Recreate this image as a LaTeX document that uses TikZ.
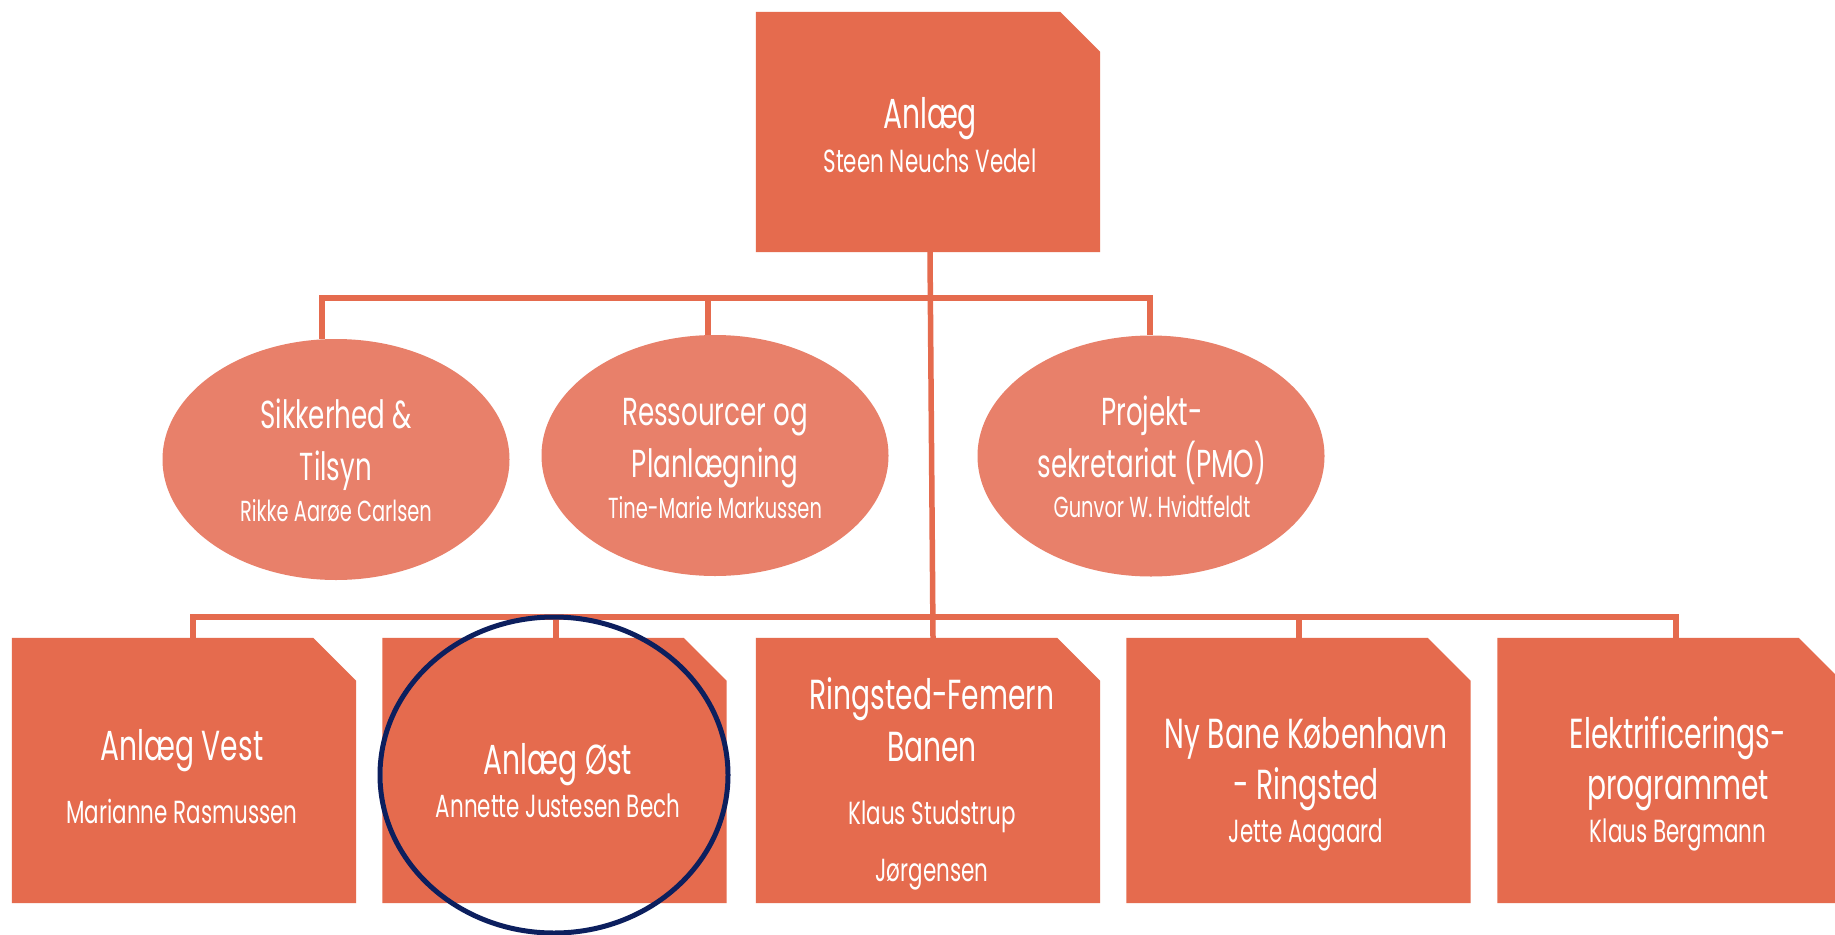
\documentclass[tikz,border=0pt]{standalone}
\usepackage{fontspec}
\newfontfamily\cf[FakeStretch=0.67]{Poppins}
\usetikzlibrary{shapes.geometric}
\definecolor{boxc}{HTML}{E56B4E}
\definecolor{ellc}{HTML}{E8806A}
\definecolor{navy}{HTML}{0C1F5E}
\tikzset{
 boxnode/.style={rectangle, minimum width=344pt, minimum height=265pt, inner sep=0pt, draw=none},
 topnode/.style={rectangle, minimum width=344pt, minimum height=240pt, inner sep=0pt, draw=none},
 ellnode/.style={ellipse, fill=ellc, minimum width=347pt, minimum height=241pt, inner sep=0pt},
 conn/.style={draw=boxc, line width=5.5pt},
 ttl/.style={text=white, font=\cf\fontsize{42}{48}\selectfont, anchor=base, inner sep=0pt},
 nm/.style={text=white, font=\cf\fontsize{32}{36}\selectfont, anchor=base, inner sep=0pt},
 ettl/.style={text=white, font=\cf\fontsize{39}{44}\selectfont, anchor=base, inner sep=0pt},
 enm/.style={text=white, font=\cf\fontsize{29}{32}\selectfont, anchor=base, inner sep=0pt},
 hilite/.style={ellipse, draw=navy, line width=5pt, minimum width=348pt, minimum height=316pt, inner sep=0pt},
}
\begin{document}
\begin{tikzpicture}[x=1pt,y=-1pt]
\clip (0,0) rectangle (1835,934);
\fill[white] (0,0) rectangle (1835,934);
% top box
\node[topnode] (top) at (928,132) {};
\fill[boxc] (top.south west) -- (top.north west) -- ([xshift=-40pt]top.north east) -- ([yshift=-40pt]top.north east) -- (top.south east) -- cycle;
% ellipses
\node[ellnode] (e1) at (336,459.5) {};
\node[ellnode] (e2) at (715,455.5) {};
\node[ellnode] (e3) at (1151,456) {};
% bottom boxes
\foreach \n/\x in {b1/184, b2/554.5, b3/928, b4/1298.5, b5/1669.5}{
  \node[boxnode] (\n) at (\x,770.5) {};
  \fill[boxc] (\n.south west) -- (\n.north west) -- ([xshift=-43pt]\n.north east) -- ([yshift=-43pt]\n.north east) -- (\n.south east) -- cycle;
}
% connectors
\coordinate (ebL) at (322,298);
\coordinate (ebM) at (708,298);
\coordinate (ebR) at (1150,298);
\draw[conn] (ebL |- e1.north) -- (ebL) -- (ebR) -- (ebR |- e3.north);
\draw[conn] (ebM) -- (ebM |- e2.north);
\coordinate (bbL) at (193,617);
\coordinate (bb2) at (556,617);
\coordinate (bb4) at (1299,617);
\coordinate (bbR) at (1676,617);
\draw[conn] (bbL |- b1.north) -- (bbL) -- (bbR) -- (bbR |- b5.north);
\draw[conn] (bb2) -- (bb2 |- b2.north);
\draw[conn] (bb4) -- (bb4 |- b4.north);
\draw[conn] ([xshift=2pt]top.south) -- ([xshift=5pt]b3.north);
% texts
\node[ttl] (t0a) at (930,128) {Anlæg};
\node[nm] (t0b) at (930,172) {Steen Neuchs Vedel};
\node[ettl] (t1a) at (336,428) {Sikkerhed \&};
\node[ettl] (t1b) at (336,480) {Tilsyn};
\node[enm] (t1c) at (336,521) {Rikke Aarøe Carlsen};
\node[ettl] (t2a) at (715,425) {Ressourcer og};
\node[ettl] (t2b) at (715,477) {Planlægning};
\node[enm] (t2c) at (715,518) {Tine-Marie Markussen};
\node[ettl] (t3a) at (1152,425) {Projekt-};
\node[ettl] (t3b) at (1152,477) {sekretariat (PMO)};
\node[enm] (t3c) at (1152,517) {Gunvor W. Hvidtfeldt};
\node[ttl] (u1a) at (182,760) {Anlæg Vest};
\node[nm] (u1b) at (182,823) {Marianne Rasmussen};
\node[ttl] (u2a) at (558,774) {Anlæg Øst};
\node[nm] (u2b) at (558,817) {Annette Justesen Bech};
\node[ttl] (u3a) at (932,709) {Ringsted-Femern};
\node[ttl] (u3b) at (932,761) {Banen};
\node[nm] (u3c) at (932,824) {Klaus Studstrup};
\node[nm] (u3d) at (932,881) {Jørgensen};
\node[ttl] (u4a) at (1306,748) {Ny Bane København};
\node[ttl] (u4b) at (1306,799) {- Ringsted};
\node[nm] (u4c) at (1306,842) {Jette Aagaard};
\node[ttl] (u5a) at (1678,748) {Elektrificerings-};
\node[ttl] (u5b) at (1678,799) {programmet};
\node[nm] (u5c) at (1678,842) {Klaus Bergmann};
% highlight
\node[hilite] (hl) at (554,775) {};
\end{tikzpicture}
\end{document}
